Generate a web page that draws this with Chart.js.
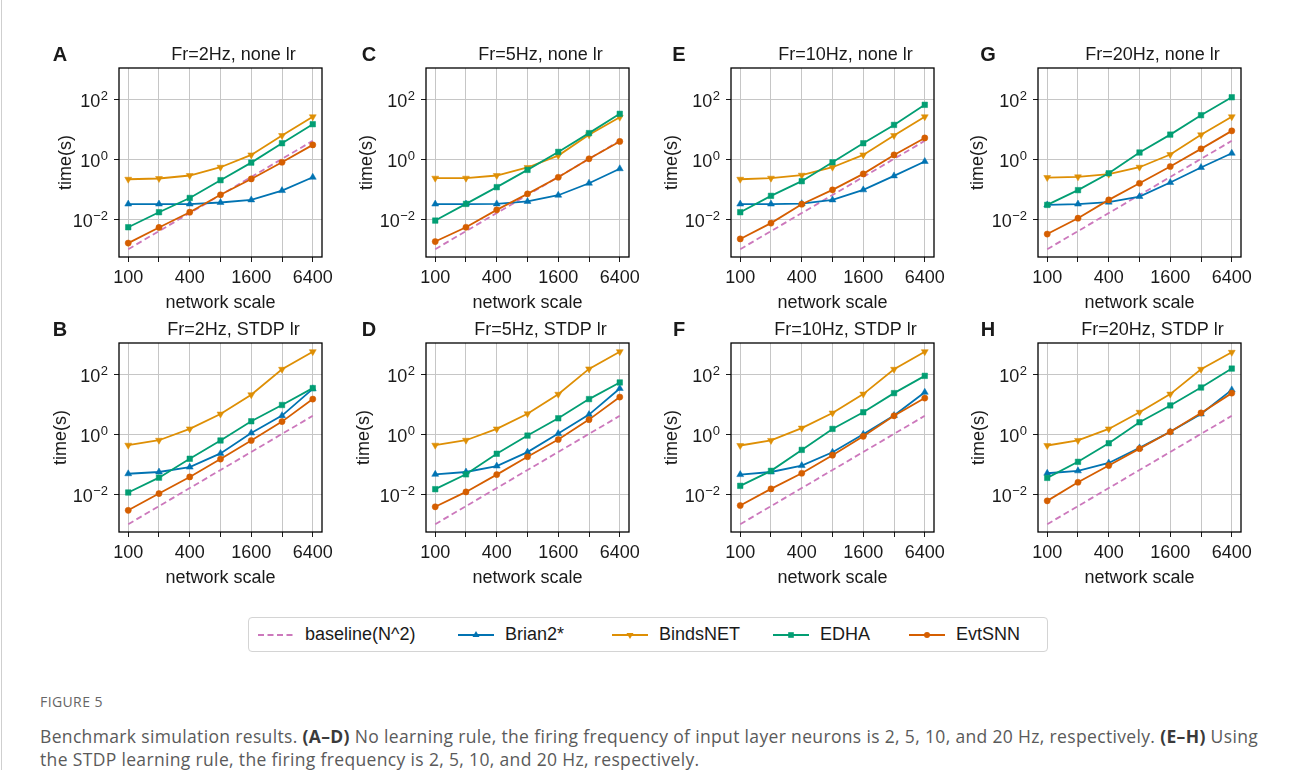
<!DOCTYPE html>
<html>
<head>
<meta charset="utf-8">
<script src="https://cdn.jsdelivr.net/npm/chart.js@4.4.1/dist/chart.umd.min.js"></script>
<style>
  body { margin: 0; background: #fff; }
  #page { position: relative; width: 1290px; height: 770px; overflow: hidden; font-family: "Liberation Sans", Arial, sans-serif; color: #1a1a1a; }
  #page canvas { position: absolute; }
  #edge { position: absolute; left: 1px; top: 0; height: 770px; border-left: 1px solid #cfcfcf; }
  #legend { position: absolute; left: 248px; top: 617px; width: 800px; height: 35px; box-sizing: border-box; border: 1px solid #d4d4d4; border-radius: 4px; }
  #legend .item { position: absolute; top: 0; height: 33px; display: flex; align-items: center; font-size: 18px; white-space: nowrap; }
  #legend svg { margin-right: 11px; }
  #figlabel { position: absolute; left: 40px; top: 692px; font-family: "Liberation Sans Narrow", "Open Sans", sans-serif; font-size: 14px; letter-spacing: 0.4px; color: #666; }
  #caption { position: absolute; left: 40px; top: 725px; font-family: "Liberation Sans Narrow", "Open Sans", sans-serif; font-size: 17.5px; line-height: 23px; color: #5a5a5a; white-space: nowrap; }
  #caption div { display: block; height: 23px; }
  #caption span { display: inline-block; }
  #caption b { color: #3a3a3a; }
</style>
</head>
<body>
<div id="page">
  <div id="edge"></div>
  <div id="legend">
    <div class="item" style="left:9px"><svg width="36" height="12"><line x1="0" y1="6" x2="36" y2="6" stroke="#cc78bc" stroke-width="1.8" stroke-dasharray="6,3.5"/></svg>baseline(N^2)</div>
    <div class="item" style="left:209px"><svg width="36" height="12"><line x1="0" y1="6" x2="36" y2="6" stroke="#0173b2" stroke-width="1.8"/><polygon points="18,2 14.5,8 21.5,8" fill="#0173b2"/></svg>Brian2*</div>
    <div class="item" style="left:363px"><svg width="36" height="12"><line x1="0" y1="6" x2="36" y2="6" stroke="#de8f05" stroke-width="1.8"/><polygon points="18,10 14.5,4 21.5,4" fill="#de8f05"/></svg>BindsNET</div>
    <div class="item" style="left:524px"><svg width="36" height="12"><line x1="0" y1="6" x2="36" y2="6" stroke="#029e73" stroke-width="1.8"/><rect x="15.2" y="3.2" width="5.6" height="5.6" fill="#029e73"/></svg>EDHA</div>
    <div class="item" style="left:660px"><svg width="36" height="12"><line x1="0" y1="6" x2="36" y2="6" stroke="#d55e00" stroke-width="1.8"/><circle cx="18" cy="6" r="3" fill="#d55e00"/></svg>EvtSNN</div>
  </div>
  <div id="figlabel">FIGURE 5</div>
  <div id="caption">
    <div><span id="cap1">Benchmark simulation results. <b>(A–D)</b> No learning rule, the firing frequency of input layer neurons is 2, 5, 10, and 20 Hz, respectively. <b>(E–H)</b> Using</span></div>
    <div><span id="cap2">the STDP learning rule, the firing frequency is 2, 5, 10, and 20 Hz, respectively.</span></div>
  </div>
</div>
<script>
// network scale and tick labels
const scales = [100, 200, 400, 800, 1600, 3200, 6400];
const xTickLabels = ['100', '', '400', '', '1600', '', '6400'];
const yTicks = [1e-2, 1, 1e2];
const yExponents = ['\u22122', '0', '2'];

// baseline(N^2), same in every panel
const baseline = [0.001, 0.004, 0.016, 0.064, 0.256, 1.024, 4.096];

// A: Fr=2Hz, none lr
const brianA = [0.032, 0.032, 0.032, 0.036, 0.044, 0.090, 0.25];
const bindsA = [0.215, 0.227, 0.286, 0.54, 1.39, 6.15, 26];
const edhaA = [0.0054, 0.0171, 0.051, 0.20, 0.77, 3.4, 14.7];
const evtA = [0.0016, 0.0053, 0.0171, 0.065, 0.22, 0.79, 3.0];

// C: Fr=5Hz, none lr
const brianC = [0.032, 0.032, 0.0324, 0.039, 0.063, 0.158, 0.48];
const bindsC = [0.233, 0.233, 0.286, 0.53, 1.32, 6.5, 25];
const edhaC = [0.009, 0.0324, 0.117, 0.44, 1.75, 7.4, 32.5];
const evtC = [0.0018, 0.0054, 0.0205, 0.070, 0.25, 1.03, 3.9];

// E: Fr=10Hz, none lr
const brianE = [0.032, 0.032, 0.033, 0.044, 0.095, 0.278, 0.84];
const bindsE = [0.215, 0.233, 0.293, 0.54, 1.39, 6.15, 26];
const edhaE = [0.0171, 0.060, 0.185, 0.79, 3.4, 13.9, 65];
const evtE = [0.0022, 0.0074, 0.0316, 0.095, 0.324, 1.39, 5.1];

// G: Fr=20Hz, none lr
const brianG = [0.030, 0.032, 0.037, 0.057, 0.167, 0.53, 1.58];
const bindsG = [0.245, 0.258, 0.316, 0.54, 1.43, 6.5, 26];
const edhaG = [0.030, 0.093, 0.34, 1.67, 6.6, 29.3, 116];
const evtG = [0.0032, 0.0108, 0.044, 0.158, 0.57, 2.21, 8.8];

// B: Fr=2Hz, STDP lr
const brianB = [0.048, 0.055, 0.080, 0.229, 1.1, 4.16, 32.6];
const bindsB = [0.43, 0.63, 1.5, 4.7, 20.6, 146, 564];
const edhaB = [0.0114, 0.0356, 0.152, 0.617, 2.7, 9.4, 34.4];
const evtB = [0.0029, 0.0105, 0.0376, 0.148, 0.617, 2.63, 14.8];

// D: Fr=5Hz, STDP lr
const brianD = [0.046, 0.055, 0.087, 0.253, 1.05, 4.5, 33.5];
const bindsD = [0.43, 0.63, 1.5, 4.8, 21.5, 150, 564];
const edhaD = [0.0147, 0.046, 0.223, 0.9, 3.39, 14.8, 53];
const evtD = [0.0038, 0.0119, 0.045, 0.177, 0.665, 3.06, 17.3];

// F: Fr=10Hz, STDP lr
const brianF = [0.045, 0.055, 0.09, 0.25, 1.0, 4.2, 25];
const bindsF = [0.42, 0.62, 1.6, 5.1, 21.7, 146, 564];
const edhaF = [0.019, 0.06, 0.3, 1.5, 5.4, 23.4, 88];
const evtF = [0.0042, 0.015, 0.05, 0.2, 0.85, 4.1, 16];

// H: Fr=20Hz, STDP lr
const brianH = [0.05, 0.06, 0.11, 0.35, 1.2, 4.7, 30];
const bindsH = [0.42, 0.62, 1.5, 5.4, 21.7, 146, 537];
const edhaH = [0.035, 0.12, 0.5, 2.5, 9.1, 36, 154];
const evtH = [0.006, 0.025, 0.09, 0.33, 1.2, 5.1, 23.4];

const panels = [
    { letter: 'A', title: 'Fr=2Hz, none lr', row: 0, col: 0, data: [baseline, brianA, bindsA, edhaA, evtA], gap: 53 },
    { letter: 'C', title: 'Fr=5Hz, none lr', row: 0, col: 1, data: [baseline, brianC, bindsC, edhaC, evtC], gap: 59 },
    { letter: 'E', title: 'Fr=10Hz, none lr', row: 0, col: 2, data: [baseline, brianE, bindsE, edhaE, evtE], gap: 59 },
    { letter: 'G', title: 'Fr=20Hz, none lr', row: 0, col: 3, data: [baseline, brianG, bindsG, edhaG, evtG], gap: 60 },
    { letter: 'B', title: 'Fr=2Hz, STDP lr', row: 1, col: 0, data: [baseline, brianB, bindsB, edhaB, evtB], gap: 58 },
    { letter: 'D', title: 'Fr=5Hz, STDP lr', row: 1, col: 1, data: [baseline, brianD, bindsD, edhaD, evtD], gap: 62 },
    { letter: 'F', title: 'Fr=10Hz, STDP lr', row: 1, col: 2, data: [baseline, brianF, bindsF, edhaF, evtF], gap: 59 },
    { letter: 'H', title: 'Fr=20Hz, STDP lr', row: 1, col: 3, data: [baseline, brianH, bindsH, edhaH, evtH], gap: 59 },
];

const series = [
    { label: 'baseline(N^2)', color: '#cc78bc', style: 'circle', r: 0, rot: 0, dash: [6, 3.5] },
    { label: 'Brian2*', color: '#0173b2', style: 'triangle', r: 4, rot: 0, dash: [] },
    { label: 'BindsNET', color: '#de8f05', style: 'triangle', r: 4, rot: 180, dash: [] },
    { label: 'EDHA', color: '#029e73', style: 'rect', r: 3.9, rot: 0, dash: [] },
    { label: 'EvtSNN', color: '#d55e00', style: 'circle', r: 3.1, rot: 0, dash: [] },
];

const colLeft = [119, 426, 731, 1038];
const rowTop = [68, 343];
const letterX = [60, 369, 679, 988];
const PW = 203, PH = 189;
const FONT = '"Liberation Sans", Arial, sans-serif';
const INK = '#1a1a1a';

const panelDeco = {
    id: 'panelDeco',
    afterDraw(chart, args, opts) {
        const { ctx, chartArea: a } = chart;
        const y = chart.scales.y;
        ctx.save();
        ctx.fillStyle = INK;
        ctx.textAlign = 'right';
        ctx.textBaseline = 'alphabetic';
        yTicks.forEach((v, i) => {
            const py = y.getPixelForValue(v);
            ctx.font = '13px ' + FONT;
            const ew = ctx.measureText(yExponents[i]).width;
            ctx.fillText(yExponents[i], a.left - 11, py + 0.8);
            ctx.font = '18px ' + FONT;
            ctx.fillText('10', a.left - 11.5 - ew, py + 7.6);
        });
        ctx.strokeStyle = '#000';
        ctx.lineWidth = 1.3;
        ctx.strokeRect(a.left, a.top, a.right - a.left, a.bottom - a.top);
        ctx.textAlign = 'center';
        ctx.textBaseline = 'middle';
        ctx.font = '18px ' + FONT;
        ctx.fillText(opts.title, (a.left + a.right) / 2 + 13, a.top - 12.5);
        ctx.font = 'bold 20px ' + FONT;
        ctx.fillText(opts.letter, opts.letterX, a.top - 12.5);
        ctx.restore();
    }
};

const page = document.getElementById('page');

panels.forEach(p => {
    const L = colLeft[p.col], T = rowTop[p.row];
    const cv = document.createElement('canvas');
    cv.width = PW + 110;
    cv.height = PH + 90;
    cv.style.left = (L - 80) + 'px';
    cv.style.top = (T - 30) + 'px';
    page.appendChild(cv);

    new Chart(cv, {
        type: 'line',
        data: {
            datasets: series.map((s, i) => ({
                label: s.label,
                data: scales.map((x, j) => ({ x: x, y: p.data[i][j] })),
                borderColor: s.color,
                backgroundColor: s.color,
                borderWidth: 1.8,
                borderDash: s.dash,
                pointStyle: s.style,
                pointRadius: s.r,
                pointRotation: s.rot,
                pointBackgroundColor: s.color,
                pointBorderColor: s.color,
                pointBorderWidth: 0.5,
                tension: 0,
                order: series.length - i,
            })),
        },
        options: {
            responsive: false,
            animation: false,
            devicePixelRatio: 1,
            layout: { padding: { top: 30, left: 0, right: 30, bottom: 0 } },
            plugins: {
                legend: { display: false },
                tooltip: { enabled: false },
                panelDeco: { title: p.title, letter: p.letter, letterX: letterX[p.col] - (L - 80) },
            },
            scales: {
                x: {
                    type: 'logarithmic',
                    min: 100 / Math.pow(2, 0.3),
                    max: 6400 * Math.pow(2, 0.3),
                    afterBuildTicks: axis => { axis.ticks = scales.map(v => ({ value: v })); },
                    afterFit: axis => { axis.height = 60; },
                    ticks: {
                        autoSkip: false, maxRotation: 0, padding: 7.5, color: INK,
                        font: { family: FONT, size: 18, lineHeight: 1 },
                        callback: (v, i) => xTickLabels[i],
                    },
                    grid: { color: '#c6c6c6', lineWidth: 1, tickLength: 5, tickColor: INK, tickWidth: 1 },
                    border: { display: false },
                    title: {
                        display: true, text: 'network scale', color: INK,
                        font: { family: FONT, size: 18, lineHeight: 1 },
                        padding: { top: 0, bottom: 4.5 },
                    },
                },
                y: {
                    type: 'logarithmic',
                    min: Math.pow(10, -3.26),
                    max: Math.pow(10, 3.04),
                    afterBuildTicks: axis => { axis.ticks = yTicks.map(v => ({ value: v })); },
                    afterFit: axis => { axis.width = 80; },
                    ticks: { display: false },
                    grid: { color: '#c6c6c6', lineWidth: 1, tickLength: 5, tickColor: INK, tickWidth: 1 },
                    border: { display: false },
                    title: {
                        display: true, text: 'time(s)', color: INK,
                        font: { family: FONT, size: 18, lineHeight: 1 },
                        padding: { top: 80 - p.gap - 9, bottom: 0 },
                    },
                },
            },
        },
        plugins: [panelDeco],
    });
});

// fit the caption's first line to the width it takes in the figure
const cap1 = document.getElementById('cap1');
const w = cap1.getBoundingClientRect().width;
const ls = (1218 - w) / cap1.textContent.length;
document.getElementById('caption').style.letterSpacing = ls.toFixed(3) + 'px';
</script>
</body>
</html>
